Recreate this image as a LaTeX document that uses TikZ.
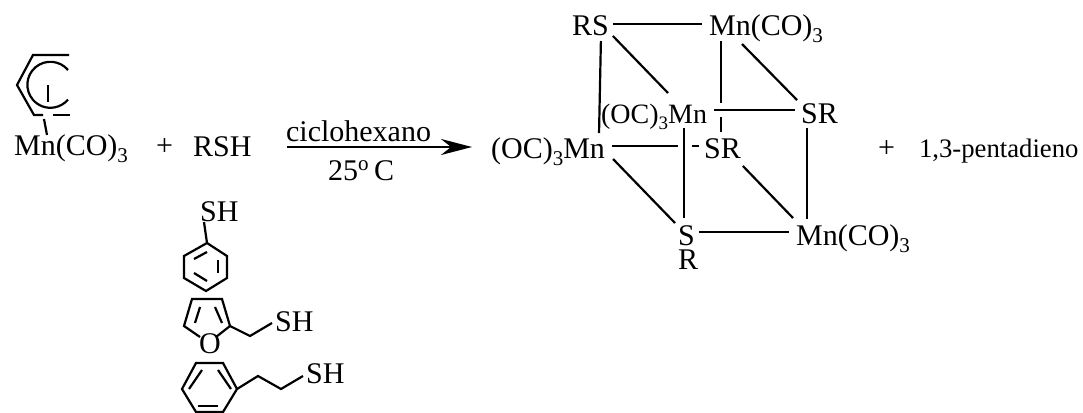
\documentclass[tikz,border=0pt]{standalone}
\usepackage{fontspec}
\setmainfont{Liberation Serif}
\usetikzlibrary{arrows.meta}
\newcommand{\fsize}[1]{\fontsize{#1}{#1}\selectfont}
\newcommand{\subthree}{\raisebox{-7pt}{\fsize{21}3}}
\begin{document}
\begin{tikzpicture}[x=1pt,y=-1pt,line width=2.2pt,main node/.style={font=\fsize{30},inner sep=0pt,anchor=base west},small node/.style={font=\fsize{28},inner sep=0pt,anchor=base west},name node/.style={font=\fsize{26.7},inner sep=0pt,anchor=base west}]
\useasboundingbox (0,0) rectangle (1083,412);
\begin{scope}
% left side
\node[main node] (mnl) at (13,155) {Mn(CO)\subthree};
\node[main node] (plusa) at (155,155) {+};
\node[main node] (rsh) at (192,156) {RSH};
\node[main node] (solv) at (285,141) {ciclohexano};
\node[main node] (temp) at (327,180) {25\textsuperscript{o}\,C};
% thiols
\node[main node] (sha) at (199,221) {SH};
\node[main node] (o) at (198,353) {O};
\node[main node] (shb) at (274,331) {SH};
\node[main node] (shc) at (305,383) {SH};
% cube
\node[main node] (rs) at (571,36) {RS};
\node[main node] (mn) at (708,36) {Mn(CO)\subthree};
\node[small node] (oca) at (600,123) {(OC)\raisebox{-6pt}{\fsize{19}3}Mn};
\node[main node] (srr) at (800,123) {SR};
\node[main node] (ocb) at (490,158) {(OC)\subthree Mn};
\node[main node] (src) at (703,158) {SR};
\node[main node] (s) at (677,245) {S};
\node[main node] (rr) at (677,269) {R};
\node[main node] (mnb) at (795,245) {Mn(CO)\subthree};
\node[main node] (plusb) at (877,157) {+};
\node[name node] (pent) at (918,157) {1,3-pentadieno};
\end{scope}
% pentadienyl ring
\coordinate (p1) at (69,55);
\coordinate (p2) at (33,55);
\coordinate (p3) at (17,85);
\coordinate (p4) at (34,115);
\coordinate (p5) at (43,115);
\coordinate (p6) at (53,115);
\coordinate (p7) at (70,115);
\coordinate (pa) at (68,70);
\coordinate (pb) at (48,85);
\coordinate (pc) at (48,102);
\coordinate (pd) at (44,119);
\draw (p1) -- (p2) -- (p3) -- (p4) -- (p5);
\draw (p6) -- (p7);
\draw (pa) arc[start angle=-40,end angle=-320,radius=23];
\draw (pb) -- (pc);
\draw (pd) -- ([shift={(34,-20)}]mnl.base west);
% arrow
\coordinate (ar1) at (287,147);
\coordinate (ar2) at (472,147);
\draw[line width=2.8pt,-{Stealth[length=31pt,width=16pt]}] (ar1) -- (ar2);
% benzene with SH
\coordinate (a1) at (207,243);
\coordinate (a2) at (227,256);
\coordinate (a3) at (227,278);
\coordinate (a4) at (206,291);
\coordinate (a5) at (184,278);
\coordinate (a6) at (184,256);
\coordinate (a7) at (194,259);
\coordinate (a8) at (207,252);
\coordinate (a9) at (218,260);
\coordinate (a10) at (218,273);
\coordinate (a11) at (194,273);
\coordinate (a12) at (207,281);
\draw ([shift={(5,1)}]sha.base west) -- (a1);
\draw (a1) -- (a2) -- (a3) -- (a4) -- (a5) -- (a6) -- cycle;
\draw (a7) -- (a8);
\draw (a9) -- (a10);
\draw (a11) -- (a12);
% furan
\coordinate (b1) at (192,299);
\coordinate (b2) at (222,299);
\coordinate (b3) at (230,326);
\coordinate (b4) at (184,326);
\coordinate (b5) at (200,307);
\coordinate (b6) at (195,323);
\coordinate (b7) at (215,307);
\coordinate (b8) at (222,323);
\coordinate (b9) at (250,336);
\draw ([shift={(2,-16)}]o.base west) -- (b4) -- (b1) -- (b2) -- (b3) -- ([shift={(18,-16)}]o.base west);
\draw (b5) -- (b6);
\draw (b7) -- (b8);
\draw (b3) -- (b9) -- ([shift={(-2,-8)}]shb.base west);
% benzene with chain
\coordinate (c1) at (196,363);
\coordinate (c2) at (223,363);
\coordinate (c3) at (237,389);
\coordinate (c4) at (223,412);
\coordinate (c5) at (196,412);
\coordinate (c6) at (182,389);
\coordinate (c7) at (189,389);
\coordinate (c8) at (202,370);
\coordinate (c9) at (218,370);
\coordinate (c10) at (231,389);
\coordinate (c11) at (198,406);
\coordinate (c12) at (218,406);
\coordinate (c13) at (258,376);
\coordinate (c14) at (281,389);
\draw (c1) -- (c2) -- (c3) -- (c4) -- (c5) -- (c6) -- cycle;
\draw (c7) -- (c8);
\draw (c9) -- (c10);
\draw (c11) -- (c12);
\draw (c3) -- (c13) -- (c14) -- ([shift={(-2,-7)}]shc.base west);
% cube bonds
\coordinate (x1) at (721,103);
\coordinate (x2) at (721,117);
\coordinate (x3) at (678,146);
\coordinate (x4) at (692,146);
\draw ([shift={(3,-12)}]rs.base east) -- ([shift={(-6,-12)}]mn.base west);
\draw ([shift={(-9,5)}]rs.base east) -- ([shift={(-7,-25)}]ocb.base east);
\draw ([shift={(3,0)}]rs.base east) -- ([shift={(68,-30)}]oca.base west);
\draw ([shift={(13,5)}]mn.base west) -- (x1);
\draw (x2) -- ([shift={(18,-26)}]src.base west);
\draw ([shift={(34,8)}]mn.base west) -- ([shift={(-3,-23)}]srr.base west);
\draw ([shift={(6,-13)}]oca.base east) -- ([shift={(-5,-13)}]srr.base west);
\draw ([shift={(7,5)}]srr.base west) -- ([shift={(12,-26)}]mnb.base west);
\draw ([shift={(6,-12)}]ocb.base east) -- (x3);
\draw (x4) -- ([shift={(-4,-12)}]src.base west);
\draw ([shift={(84,5)}]oca.base west) -- ([shift={(7,-27)}]s.base west);
\draw ([shift={(7,1)}]ocb.base east) -- ([shift={(-2,-22)}]s.base west);
\draw ([shift={(1,8)}]src.base east) -- ([shift={(-2,-27)}]mnb.base west);
\draw ([shift={(3,-13)}]s.base east) -- ([shift={(-6,-13)}]mnb.base west);
\end{tikzpicture}
\end{document}
